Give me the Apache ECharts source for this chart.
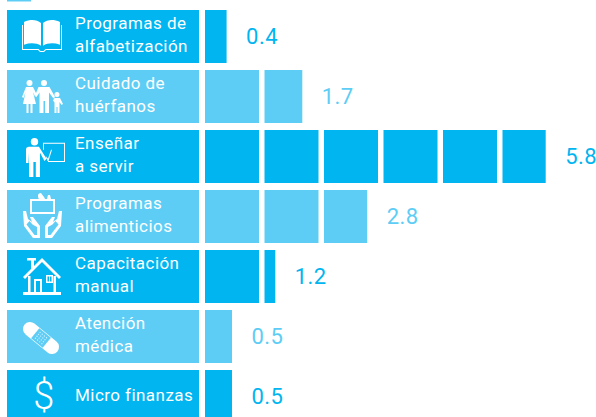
<!DOCTYPE html>
<html><head><meta charset="utf-8">
<style>html,body{margin:0;padding:0;background:#fff}#c{width:596px;height:417px}svg text{letter-spacing:.45px}</style>
<script src="https://cdn.jsdelivr.net/npm/echarts@6/dist/echarts.min.js"></script>
</head><body><div id="c"></div>
<script>
const categories = ['Programas de\nalfabetización','Cuidado de\nhuérfanos','Enseñar\na servir','Programas\nalimenticios','Capacitación\nmanual','Atención\nmédica','Micro finanzas'];
const values = [0.4,1.7,5.8,2.8,1.2,0.5,0.5];
const DARK = '#00b5f0', LIGHT = '#5ecdf5';
const rowColors = [DARK,LIGHT,DARK,LIGHT,DARK,LIGHT,DARK];
const circle = (x,y,r)=>`M${x-r} ${y}a${r} ${r} 0 1 0 ${2*r} 0a${r} ${r} 0 1 0 ${-2*r} 0Z`;
const iconBook = 'M2 3C9 0 15 1 19 4V26C14 23 8 23 2 25ZM21 4C25 1 31 0 38 3V25C32 23 26 23 21 26ZM0 6H1V29H16.5L18.5 31H21.5L23.5 29H39V6H40V30H24L22 32H18L16 30H0Z';
const iconFamily = circle(7.5,3,3)+circle(22,3,3)+circle(35,14.5,2.5)
  +'M4 7H11L15 15L13 16.5L11 12L14 24H10.5V33H8.5V24H6.5V33H4.5V24H1L3.5 12L1.5 18L0 17Z'
  +'M16.5 7H27.5L33 17L31.5 18.5L27 12.5V33H23V21H21.5V33H17.5V12.5L14.5 17L13 15.5Z'
  +'M32.5 18H38L41 24L39.5 25L37.5 22V33H35.5V27H34.5V33H32.5V22.5L31 20.5Z';
const iconTeacher = circle(8.5,4,3.7)
  +'M0 12Q0 9 3 9H13L20.5 21L18.5 23L14 15V39H9.8V24H7.4V39H3V15L2.5 25H0Z'
  +'M17 5H39V24H22V23H38V6H18V12H17Z'
  +'M19.5 18L22 21L25 12H26L22.5 23H21.5Z';
const iconFood = 'M7 6H32V21H7ZM9 19H30V8H9Z'
  +'M16 6C14 3 15 0 18 0C19 2 21 3 22 6Z M24 6L25 2H27L28 6Z'
  +'M0 18H3L5 26L9 29L7 24H10L17 33V45H10L1 33ZM3.5 31.5L11.5 42H14V34L9.5 31.5L6.5 28Z'
  +'M39 18H36L34 26L30 29L32 24H29L22 33V45H29L38 33ZM35.5 31.5L27.5 42H25V34L29.5 31.5L32.5 28Z';
const iconHouse = 'M0 19L19 0L38 19L36 21L19 4L2 21Z'
  +'M5 18H7.5V34H5ZM30.5 18H33V34H30.5ZM0 34H38V37H0Z'
  +'M4 0H13V2.5H11V8L8 11V2.5H4Z'
  +'M11 21H19V34H17V23H13V34H11Z'
  +'M23 17H30V25H23ZM24.5 18.5V23.5H26V18.5ZM27 18.5V23.5H28.5V18.5Z';
const iconBandage = 'M11.43 1.58L33.43 19.58A7 7 0 0 1 24.57 30.42L2.57 12.42A7 7 0 0 1 11.43 1.58Z';
const iconBandagePad = 'M8.1 16.25L16.3 6.25L27.9 15.75L19.7 25.75Z';
const iconBandageDots = (()=>{let s='';for(let a=-1.5;a<=1.5;a++)for(let b=-1.5;b<=1.5;b++){
  const x=18+a*3.4*.774-b*3.0*.633, y=16+a*3.4*.633+b*3.0*.774; s+=circle(+x.toFixed(2),+y.toFixed(2),.8);} return s;})();
// icon outline, offset of its box from the cell's left edge and from the row centre
const icons = [
 {d:iconBook,x:15,y:-16.5,w:40,h:32},
 {d:iconFamily,x:15,y:-16.5,w:41,h:33},
 {d:iconTeacher,x:19,y:-18.5,w:39,h:39},
 {d:iconFood,x:16,y:-23.5,w:39,h:45},
 {d:iconHouse,x:16,y:-18.5,w:38,h:37},
 {d:iconBandage,x:16,y:-14.5,w:36,h:32,pad:iconBandagePad,dots:iconBandageDots},
 {text:'$',x:37,y:-1}
];
const TILE_GAP = 5.5, ROW_GAP = 7, CELL_OFFSET = 198, CELL_W = 192, VALUE_GAP = 19.5;
function cell(params, api){
  const i = api.value(1), p = api.coord([0,i]), h = api.size([0,1])[1]-ROW_GAP;
  const left = p[0]-CELL_OFFSET, ic = icons[i], ch = [
    {type:'rect',shape:{x:left,y:p[1]-h/2,width:CELL_W,height:h},style:{fill:rowColors[i]}}];
  if (ic.text) ch.push({type:'text',style:{text:ic.text,x:left+ic.x,y:p[1]+ic.y,fill:'#fff',align:'center',verticalAlign:'middle',font:'300 38px Roboto'}});
  else {
    const sh = {x:left+ic.x,y:p[1]+ic.y,width:ic.w,height:ic.h,layout:'cover'};
    ch.push({type:'path',shape:Object.assign({pathData:ic.d},sh),style:{fill:'#fff'}});
    if (ic.pad){
      ch.push({type:'path',shape:{pathData:ic.pad,x:left+ic.x+8.1,y:p[1]+ic.y+6.25,width:19.8,height:19.5,layout:'cover'},style:{fill:rowColors[i]}});
      ch.push({type:'path',shape:{pathData:ic.dots,x:left+ic.x+11.8,y:p[1]+ic.y+9.7,width:12.4,height:12.6,layout:'cover'},style:{fill:'#fff',opacity:.75}});
    }
  }
  return {type:'group',children:ch};
}
function tiles(params, api){
  const v = api.value(0), i = api.value(1), p0 = api.coord([0,i]), period = api.coord([1,i])[0]-p0[0];
  const h = api.size([0,1])[1]-ROW_GAP, w = period-TILE_GAP, ch = [];
  let end = p0[0];
  for (let k=0;k<Math.ceil(v);k++){
    const frac = Math.min(1,v-k), x = p0[0]+k*period;
    ch.push({type:'rect',shape:{x:x,y:p0[1]-h/2,width:w*frac,height:h},style:{fill:rowColors[i]}});
    end = x+w*frac;
  }
  ch.push({type:'text',style:{text:v.toFixed(1),x:end+VALUE_GAP,y:p0[1],fill:rowColors[i],align:'left',verticalAlign:'middle',font:'400 22px Roboto'}});
  return {type:'group',children:ch};
}
const chart = echarts.init(document.getElementById('c'),null,{renderer:'svg'});
chart.setOption({
  animation:false,
  backgroundColor:'#fff',
  grid:[
    {left:205,top:6.5,width:357,height:420,containLabel:false,outerBoundsMode:'none'},
    {left:205,top:4.5,width:357,height:420,containLabel:false,outerBoundsMode:'none'}
  ],
  xAxis:[
    {type:'value',min:0,max:6,interval:1,show:false,gridIndex:0},
    {type:'value',min:0,max:6,interval:1,show:false,gridIndex:1}
  ],
  yAxis:[
    {type:'category',inverse:true,data:categories,gridIndex:0,show:false},
    {type:'category',inverse:true,data:categories,gridIndex:1,z:10,
     axisLine:{show:false},axisTick:{show:false},splitLine:{show:false},
     axisLabel:{align:'left',margin:130,color:'#fff',fontFamily:'Roboto',fontSize:17,lineHeight:22.5,interval:0}}
  ],
  graphic:[{type:'rect',shape:{x:7,y:0,width:24,height:1.5},style:{fill:LIGHT}}],
  series:[
    {type:'custom',clip:false,coordinateSystem:'cartesian2d',xAxisIndex:0,yAxisIndex:0,renderItem:cell,encode:{x:0,y:1},z:2,silent:true,data:values.map((v,i)=>[v,i])},
    {type:'custom',clip:false,coordinateSystem:'cartesian2d',xAxisIndex:0,yAxisIndex:0,renderItem:tiles,encode:{x:0,y:1},z:3,silent:true,data:values.map((v,i)=>[v,i])}
  ]
});
</script></body></html>
